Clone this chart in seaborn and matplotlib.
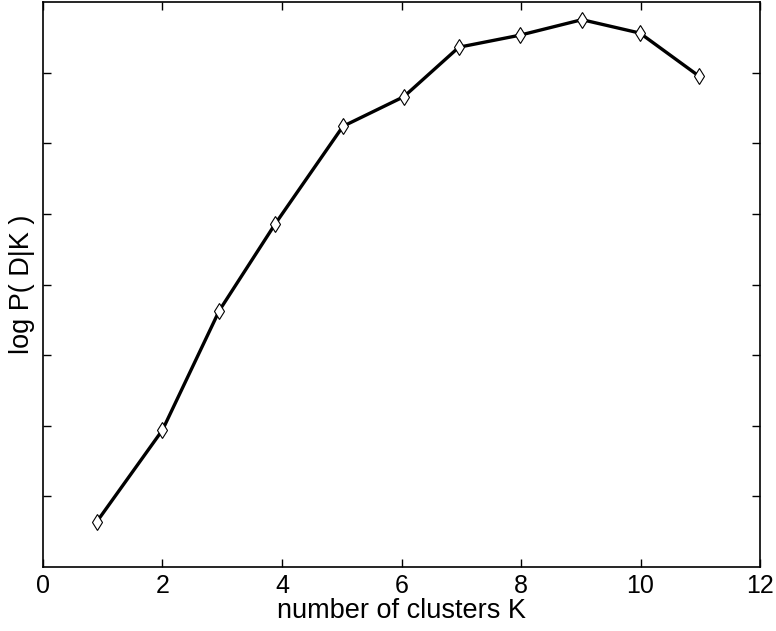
import numpy as np
import pandas as pd
import matplotlib
matplotlib.use("Agg")
import matplotlib.pyplot as plt
import seaborn as sns

# values (y axis is unlabeled, arbitrary units)
clusters = [0.90, 2.00, 2.95, 3.88, 5.02, 6.04, 6.96, 7.98, 9.02, 9.99, 10.98]
log_evidence = [0.64, 1.94, 3.63, 4.85, 6.24, 6.66, 7.36, 7.53, 7.75, 7.56, 6.95]
x_ticks = [0, 2, 4, 6, 8, 10, 12]
y_ticks = [1, 2, 3, 4, 5, 6, 7]

df = pd.DataFrame({"K": clusters, "logP": log_evidence})

sns.set_style("ticks")
plt.rcParams['font.family'] = ['Liberation Sans', 'DejaVu Sans']

fig = plt.figure(figsize=(7.76, 6.31), dpi=100)
ax = fig.add_axes([0.0554, 0.1014, 0.9240, 0.8954])

sns.lineplot(data=df, x="K", y="logP", ax=ax, color="black", linewidth=2.4,
             marker="d", markersize=8, markerfacecolor="white",
             markeredgecolor="black", markeredgewidth=0.8)

ax.set_xlim(0, 12)
ax.set_ylim(0, 8)
ax.set_xticks(x_ticks)
ax.set_yticks(y_ticks)
ax.set_yticklabels([])
ax.tick_params(direction="in", length=6, width=1, top=True, right=True,
               labelsize=18, colors="black", pad=5)
for s in ax.spines.values():
    s.set_visible(True)
    s.set_linewidth(1.2)
    s.set_color("black")

ax.set_xlabel("number of clusters K", fontsize=19.5, labelpad=0, color="black")
ax.set_ylabel("log P( D|K )", fontsize=19.5, labelpad=1, color="black")

fig.savefig("out.png", dpi=100)
